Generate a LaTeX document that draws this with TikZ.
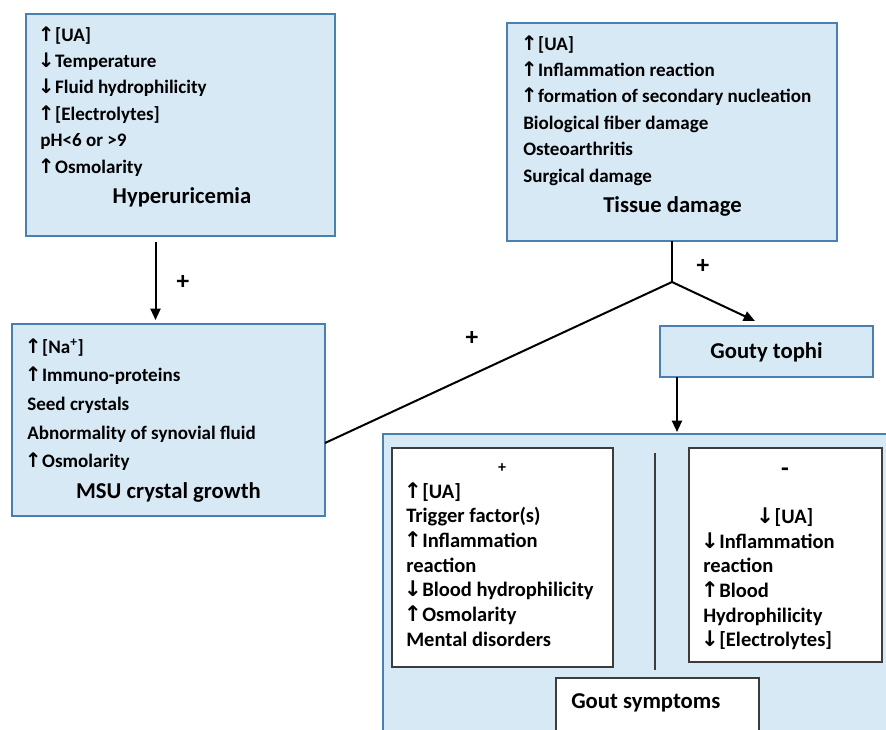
\documentclass[tikz,border=0pt]{standalone}
\usepackage{fontspec}
\setmainfont{Carlito}
\newfontfamily\arw[Scale=1.05]{DejaVu Sans}
\usetikzlibrary{arrows.meta,calc,fit}
\definecolor{boxfill}{RGB}{216,233,246}
\definecolor{boxline}{RGB}{72,128,175}
\definecolor{innerline}{RGB}{60,60,60}
\newcommand\UP{{\kern-0.12em\arw\bfseries ↑\kern0.02em}}
\newcommand\DN{{\kern-0.12em\arw\bfseries ↓\kern0.02em}}
\begin{document}
\begin{tikzpicture}[x=0.75pt,y=-0.75pt,
 bluebox/.style={draw=boxline, fill=boxfill, line width=1.1pt, inner sep=0pt, outer sep=0pt},
 whitebox/.style={draw=innerline, fill=white, line width=1.1pt, inner sep=0pt, outer sep=0pt},
 li/.style={anchor=base west, inner sep=0pt, font=\fontsize{14.3}{17}\selectfont\bfseries},
 lin/.style={anchor=base west, inner sep=0pt, font=\fontsize{15.4}{18}\selectfont\bfseries},
 ttl/.style={anchor=base, inner sep=0pt, font=\fontsize{17}{20}\selectfont\bfseries},
 plus/.style={inner sep=0pt, font=\fontsize{19}{22}\selectfont\bfseries},
 arr/.style={-{Triangle[length=8.5pt,width=7.5pt]}, line width=1.5pt},
 conn/.style={line width=1.5pt},
 sepline/.style={line width=1.1pt, draw=innerline}]
\clip (0,0) rectangle (886,729);
% boxes
\node[bluebox, fit={(26,14) (335,236)}] (hyp) {};
\node[bluebox, fit={(507,23) (837,241)}] (tis) {};
\node[bluebox, fit={(12,324) (325,516)}] (msu) {};
\node[bluebox, fit={(660,326) (873,377)}] (tophi) {};
\node[bluebox, fit={(383,434) (895,745)}] (gout) {};
\node[whitebox, fit={(392,448) (613,667)}] (pos) {};
\node[whitebox, fit={(689,448) (882,662)}] (neg) {};
\node[whitebox, fit={(556,678) (759,745)}] (sym) {};
\coordinate (sepA) at (655,453);
\coordinate (sepB) at (655,670);
\draw[sepline] (sepA) -- (sepB);
% Hyperuricemia
\foreach \t [count=\i] in {{\UP[UA]},{\DN Temperature},{\DN Fluid hydrophilicity},{\UP[Electrolytes]},{pH<6 or >9},{\UP Osmolarity}}
  \node[li] (h\i) at (40,{41+26.4*(\i-1)}) {\t};
\node[ttl] (hypT) at (182,203) {Hyperuricemia};
% Tissue damage
\foreach \t [count=\i] in {{\UP[UA]},{\UP Inflammation reaction},{\UP formation of secondary nucleation},{Biological fiber damage},{Osteoarthritis},{Surgical damage}}
  \node[li] (t\i) at (523,{50+26.4*(\i-1)}) {\t};
\node[ttl] (tisT) at (672.5,212) {Tissue damage};
% MSU
\foreach \t [count=\i] in {{\UP[Na\textsuperscript{+}]},{\UP Immuno-proteins},{Seed crystals},{Abnormality of synovial fluid},{\UP Osmolarity}}
  \node[li] (m\i) at (27,{353+28.7*(\i-1)}) {\t};
\node[ttl] (msuT) at (168.5,498) {MSU crystal growth};
% tophi
\node[ttl] (tophiT) at (766.5,358) {Gouty tophi};
% inner left
\node[inner sep=0pt, font=\fontsize{12}{14}\selectfont\bfseries] (posS) at (502,468) {+};
\foreach \t [count=\i] in {{\UP[UA]},{Trigger factor(s)},{\UP Inflammation},{reaction},{\DN Blood hydrophilicity},{\UP Osmolarity},{Mental disorders}}
  \node[lin] (p\i) at (406,{498+24.7*(\i-1)}) {\t};
% inner right
\node[plus] (negS) at (785,472) {-};
\node[anchor=base, inner sep=0pt, font=\fontsize{15.4}{18}\selectfont\bfseries] (n0) at (786,523) {\DN[UA]};
\foreach \t [count=\i] in {{\DN Inflammation},{reaction},{\UP Blood},{Hydrophilicity},{\DN[Electrolytes]}}
  \node[lin] (n\i) at (703,{548+24.7*(\i-1)}) {\t};
% gout symptoms
\node[ttl, anchor=base west] (symT) at (571,708) {Gout symptoms};
% plus signs
\node[plus] (pl1) at (183,282) {+};
\node[plus] (pl2) at (703,266) {+};
\node[plus] (pl3) at (472,338) {+};
% connectors
\coordinate (j) at (672,282);
\coordinate (tipT) at (755,321);
\draw[conn] (tis.south) -- (j);
\draw[conn] ($(msu.east)+(0,23)$) -- (j);
\draw[arr] (j) -- (tipT);
\draw[arr] ($(hyp.south)+(-25,6)$) -- ($(msu.north)+(-13,-4)$);
\coordinate (tx) at ($(tophi.south west)+(17,0)$);
\draw[arr, shorten >=1.5pt] (tx) -- (tx |- gout.north);
\end{tikzpicture}
\end{document}
